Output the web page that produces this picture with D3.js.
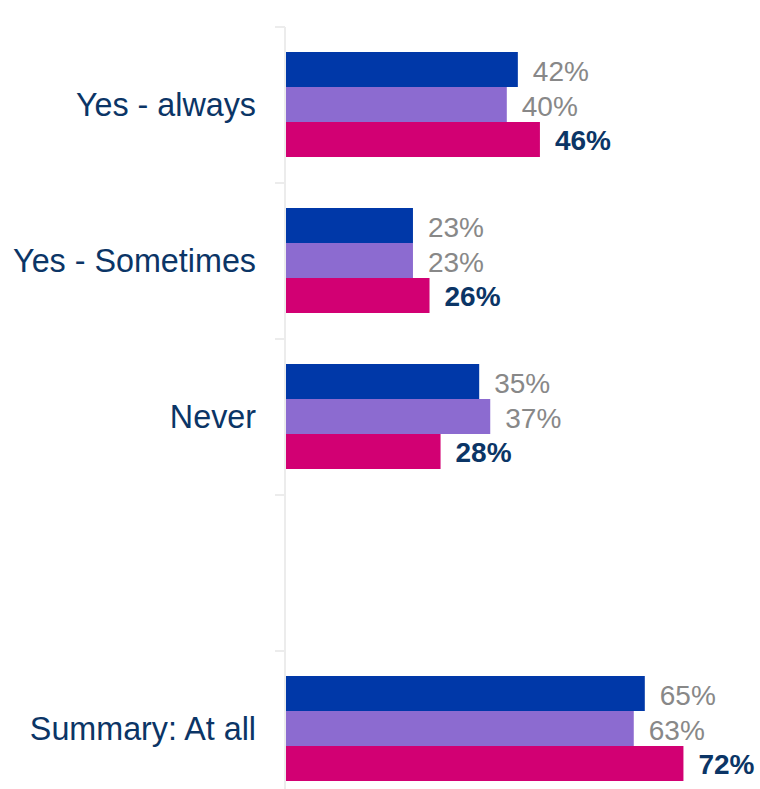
<!DOCTYPE html>
<html>
<head>
<meta charset="utf-8">
<script src="https://cdn.jsdelivr.net/npm/d3@7"></script>
<style>
  html, body { margin: 0; padding: 0; background: #ffffff; }
  svg { display: block; }
</style>
</head>
<body>
<svg id="chart" width="760" height="789"></svg>
<script>
// Response categories (the blank slot leaves a gap before the summary row)
const categories = ["Yes - always", "Yes - Sometimes", "Never", "", "Summary: At all"];
// Three survey waves, drawn top to bottom within each category
const seriesNames = ["wave1", "wave2", "wave3"];
const wave1 = [42, 23, 35, null, 65];
const wave2 = [40, 23, 37, null, 63];
const wave3 = [46, 26, 28, null, 72];
const seriesColors = ["#0038a8", "#8c6bd0", "#d20073"];

const values = [wave1, wave2, wave3];

const svg = d3.select("#chart");
const axisX = 286;

// Horizontal value scale (percent)
const x = d3.scaleLinear().domain([0, 100]).range([axisX, axisX + 552]);

// One slot per category; the last slot runs past the bottom edge
const y = d3.scaleBand().domain(categories.map((c, i) => i)).range([27, 807]).padding(0);

// Bars inside a slot
const yInner = d3.scaleBand().domain(seriesNames).range([25, 130]).padding(0);

// Axis line and the boundary ticks between category slots
const axisG = svg.append("g");
axisG.append("line")
  .attr("x1", axisX - 1).attr("x2", axisX - 1)
  .attr("y1", y.range()[0]).attr("y2", y.range()[1])
  .attr("stroke", "#ececec").attr("stroke-width", 2);
const boundaries = d3.range(categories.length + 1).map(i => y.range()[0] + i * y.step());
axisG.selectAll("line.tick")
  .data(boundaries)
  .join("line")
  .attr("class", "tick")
  .attr("x1", axisX - 11).attr("x2", axisX - 1)
  .attr("y1", d => d).attr("y2", d => d)
  .attr("stroke", "#ececec").attr("stroke-width", 2);

// Category labels via a left axis without tick lines
const labelAxis = d3.axisLeft(y)
  .tickSize(0)
  .tickPadding(30)
  .tickFormat(i => categories[i]);
const labelG = svg.append("g")
  .attr("transform", `translate(${axisX},0)`)
  .call(labelAxis);
labelG.select(".domain").remove();
labelG.selectAll("text")
  .attr("font-family", "Liberation Sans, Arial, sans-serif")
  .attr("font-size", "32.3px")
  .attr("fill", "#0b3566")
  .attr("dy", "0.35em");

// Flatten into bar records
const bars = [];
categories.forEach((c, ci) => {
  seriesNames.forEach((s, si) => {
    const v = values[si][ci];
    if (v !== null) bars.push({ ci, si, s, v });
  });
});

const barG = svg.append("g");
barG.selectAll("rect")
  .data(bars)
  .join("rect")
  .attr("x", x(0))
  .attr("y", d => y(d.ci) + yInner(d.s))
  .attr("width", d => x(d.v) - x(0))
  .attr("height", yInner.bandwidth())
  .attr("fill", d => seriesColors[d.si]);

// Value labels: latest wave in bold navy, earlier waves in grey
barG.selectAll("text")
  .data(bars)
  .join("text")
  .attr("x", d => x(d.v) + 15)
  .attr("y", d => y(d.ci) + yInner(d.s) + yInner.bandwidth() / 2)
  .attr("dy", d => d.si === 2 ? "10.5px" : "11.5px")
  .attr("font-family", "Liberation Sans, Arial, sans-serif")
  .attr("font-size", "28px")
  .attr("font-weight", d => d.si === 2 ? "bold" : "normal")
  .attr("fill", d => d.si === 2 ? "#0b3566" : "#888888")
  .text(d => d.v + "%");
</script>
</body>
</html>
